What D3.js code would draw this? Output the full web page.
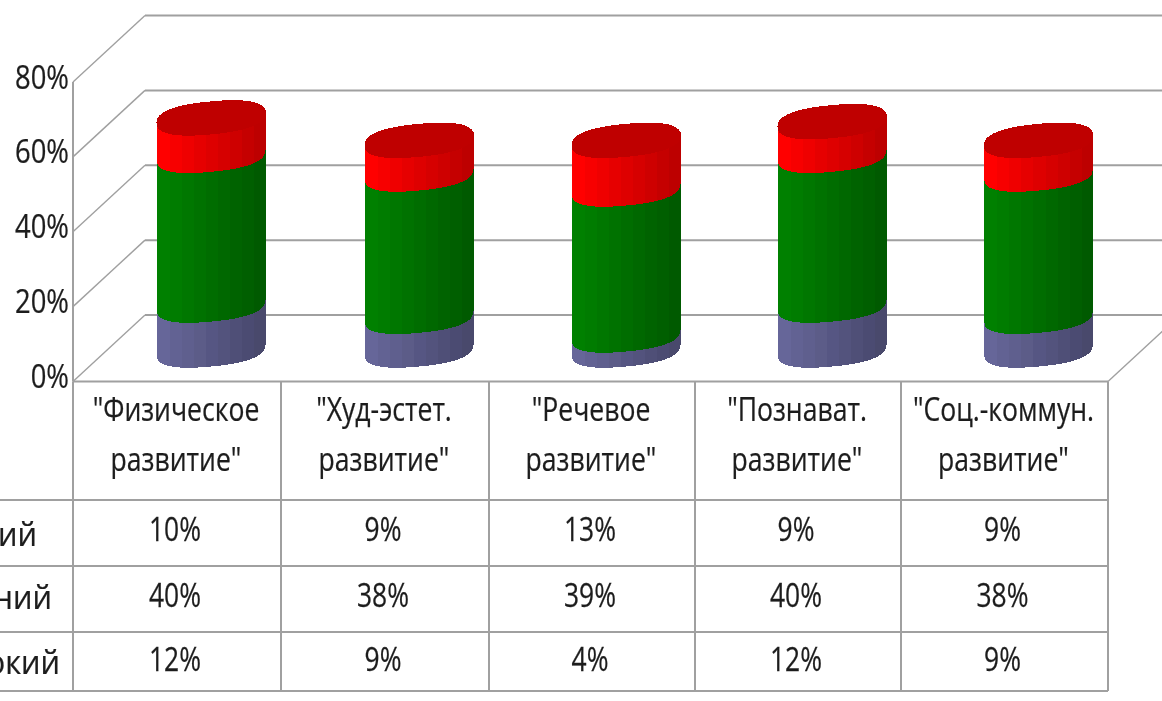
<!DOCTYPE html>
<html><head><meta charset="utf-8">
<script src="https://cdn.jsdelivr.net/npm/d3@7"></script>
<style>html,body{margin:0;background:#fff;overflow:hidden}svg{display:block}
text{font-family:"Open Sans","Liberation Sans",sans-serif;fill:#1c1c1c;stroke:#1c1c1c;stroke-width:.25}</style></head>
<body><svg width="1162" height="701"></svg>
<script>
const categories=[['"Физическое','развитие"'],['"Худ-эстет.','развитие"'],['"Речевое','развитие"'],['"Познават.','развитие"'],['"Соц.-коммун.','развитие"']];
const seriesNames=['Низкий','Средний','Высокий'];
const low=[10,9,13,9,9];
const mid=[40,38,39,40,38];
const high=[12,9,4,12,9];
const yTicks=[0,20,40,60,80];
const colEdges=[73,281,489,695,901,1108];
const rowEdges=[500,566,632,691];

const svg=d3.select('svg');
const defs=svg.append('defs');
defs.append('filter').attr('id','soft').attr('filterUnits','userSpaceOnUse')
  .attr('x',0).attr('y',0).attr('width',1162).attr('height',701)
  .append('feGaussianBlur').attr('stdDeviation',0.6);
const root=svg.append('g').attr('filter','url(#soft)');
const gridColor='#a0a0a0', dx=72, dy=-66.5;
const y=d3.scaleLinear().domain([0,80]).range([381.5,82]);
const W=1162;
function label(sel,x,yy,txt,size,sx,anchor){
  return sel.append('text').attr('transform',`translate(${x},${yy}) scale(${sx},1)`)
    .attr('text-anchor',anchor||'middle').attr('font-size',size).text(txt);
}

// walls and gridlines
yTicks.forEach(t=>{
  root.append('line').attr('x1',73).attr('y1',y(t)).attr('x2',73+dx).attr('y2',y(t)+dy).attr('stroke',gridColor).attr('stroke-width',1.4);
  root.append('line').attr('x1',73+dx).attr('y1',y(t)+dy).attr('x2',W).attr('y2',y(t)+dy).attr('stroke',gridColor).attr('stroke-width',2);
  label(root,69,y(t)+6.5,t+'%',33,0.83,'end');
});
root.append('line').attr('x1',73).attr('x2',73).attr('y1',y(80)).attr('y2',y(0)).attr('stroke',gridColor).attr('stroke-width',2);
root.append('line').attr('x1',1108).attr('y1',y(0)).attr('x2',1108+dx).attr('y2',y(0)+dy).attr('stroke',gridColor).attr('stroke-width',1.4);

// cylinders
const rx=54.5, a=16.5, k=5, baseUp=31.5, offset=34, stripes=9, p=0.82;
const palettes=[['#666699','#48486c'],['#008000','#005a00'],['#ff0000','#bd0000']];
const lineGen=d3.line().x(d=>d[0]).y(d=>d[1]);
const sp=v=>Math.sign(v)*Math.pow(Math.abs(v),p);
function pt(cx,cy,t){const c=sp(Math.cos(t)),s=sp(Math.sin(t));return [cx+rx*c,cy+a*s-k*c];}
function tOf(u){return Math.acos(Math.sign(u)*Math.pow(Math.abs(u),1/p));}
categories.forEach((c,i)=>{
  const cx=(colEdges[i]+colEdges[i+1])/2+offset;
  const g=root.append('g').attr('shape-rendering','crispEdges');
  const stack=[high[i],mid[i],low[i]];
  let acc=0;
  stack.forEach((v,s)=>{
    const y0=y(acc)-baseUp, y1=y(acc+v)-baseUp-(s===stack.length-1?3:0);
    const col=d3.interpolateRgb(palettes[s][0],palettes[s][1]);
    for(let n=stripes-1;n>=0;n--){
      const ua=-1+2*n/stripes, ub=-1+2*(n+1)/stripes;
      const us=d3.range(0,9).map(j=>ua+(ub-ua)*j/8);
      const bot=us.map(u=>pt(cx,y0,tOf(u)));
      const top=us.slice().reverse().map(u=>pt(cx,y1,tOf(u)));
      // overlap one pixel to the right so no seam shows between stripes
      const over=n<stripes-1?[[bot[8][0]+1,bot[8][1]],[top[0][0]+1,top[0][1]]]:[];
      g.append('path').attr('d',lineGen([...bot,...over,...top])+'Z').attr('fill',col(n/(stripes-1)));
    }
    acc+=v;
  });
  const ytop=y(acc)-baseUp;
  g.append('path').attr('d',lineGen(d3.range(0,120).map(j=>pt(cx,ytop,j/120*2*Math.PI)))+'Z').attr('fill','#bf0000');
});

// data table
const tbl=root.append('g').attr('stroke',gridColor).attr('stroke-width',2);
tbl.append('line').attr('x1',73).attr('x2',1108).attr('y1',381.5).attr('y2',381.5);
rowEdges.forEach(r=>tbl.append('line').attr('x1',0).attr('x2',1108).attr('y1',r).attr('y2',r));
colEdges.forEach(e=>tbl.append('line').attr('x1',e).attr('x2',e).attr('y1',381.5).attr('y2',691));
categories.forEach((c,i)=>{
  const cm=(colEdges[i]+colEdges[i+1])/2;
  c.forEach((l,j)=>label(root,cm-1,421+j*50,l,32,0.83));
  [low,mid,high].forEach((arr,r)=>label(root,cm-2,[541,607,671][r],arr[i]+'%',33,0.8));
});
const labelEnd=[37,52,60];
seriesNames.forEach((n,r)=>label(root,labelEnd[r],[546,609,674][r],n,33,0.93,'end'));
</script></body></html>
